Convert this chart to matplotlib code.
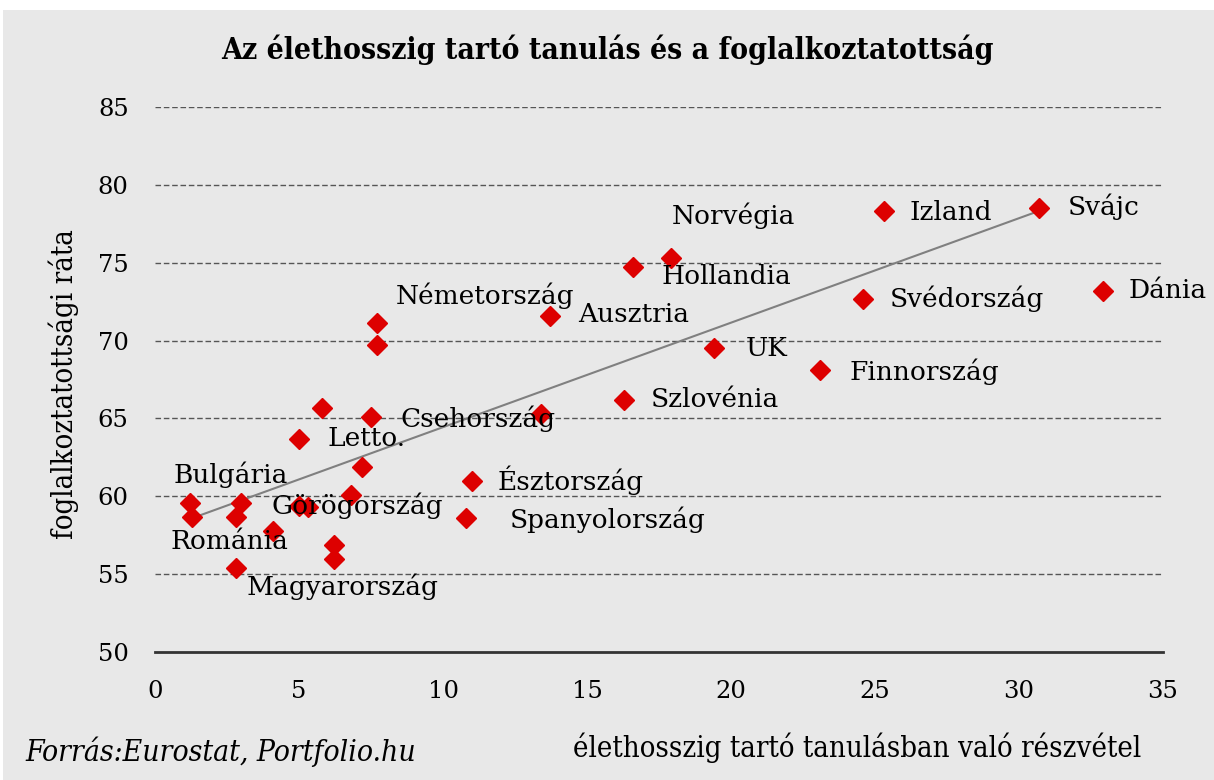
import numpy as np
import matplotlib.pyplot as plt
from matplotlib.patches import Rectangle

# participation in lifelong learning (%) vs employment rate (%)
learning = [1.2, 1.3, 2.8, 3.0, 4.1, 2.8, 5.0, 5.3, 6.8, 7.2, 6.2, 6.2,
            5.0, 5.8, 7.5, 7.7, 7.7, 13.4, 11.0, 10.8, 13.7, 16.6, 17.9,
            16.3, 19.4, 23.1, 24.6, 25.3, 30.7, 32.9]
employment = [59.6, 58.7, 58.7, 59.6, 57.8, 55.4, 59.4, 59.3, 60.1, 61.9, 56.9, 56.0,
              63.7, 65.7, 65.1, 71.1, 69.7, 65.3, 61.0, 58.6, 71.6, 74.7, 75.3,
              66.2, 69.5, 68.1, 72.7, 78.3, 78.5, 73.2]

# trend line as drawn in the original (slope, intercept), range of x
trend_coef = [0.671, 57.73]
trend_range = [1.15, 30.8]

label_names = ['Norvégia', 'Izland', 'Svájc', 'Hollandia', 'Svédország', 'Dánia',
               'Németország', 'Ausztria', 'UK', 'Finnország', 'Szlovénia',
               'Csehország', 'Letto.', 'Bulgária', 'Észtország', 'Görögország',
               'Spanyolország', 'Románia', 'Magyarország']
label_x = [17.95, 26.2, 31.7, 17.6, 25.5, 33.8, 8.37, 14.7, 20.5, 24.1, 17.2,
           8.54, 6.0, 0.63, 11.9, 4.06, 12.3, 0.52, 3.19]
label_y = [78.0, 78.2, 78.6, 74.1, 72.7, 73.2, 72.9, 71.7, 69.5, 68.0, 66.2,
           65.0, 63.7, 61.4, 61.0, 59.4, 58.5, 57.1, 54.2]

bg = '#e8e8e8'
serif = ['DejaVu Serif', 'Liberation Serif']

fig = plt.figure(figsize=(12.14, 7.8), dpi=100, facecolor='white')
fig.patches.append(Rectangle((3 / 1214, 0), 1, 1 - 10 / 780, transform=fig.transFigure,
                             facecolor=bg, edgecolor='none', zorder=-1))
ax = fig.add_axes([0.1277, 0.1641, 0.8303, 0.6987])
ax.set_facecolor(bg)

ax.set_xlim(0, 35)
ax.set_ylim(50, 85)
ax.set_xticks(range(0, 36, 5))
ax.set_yticks(range(50, 86, 5))
for s in ['top', 'right', 'left']:
    ax.spines[s].set_visible(False)
ax.spines['bottom'].set_color('#333333')
ax.spines['bottom'].set_linewidth(2)
ax.tick_params(length=0, labelsize=17.5)
ax.tick_params(axis='y', pad=19)
ax.tick_params(axis='x', pad=20)
for t in ax.get_xticklabels() + ax.get_yticklabels():
    t.set_family(serif)
for yv in range(55, 86, 5):
    ax.axhline(yv, color='#555555', lw=1, ls=(0, (4, 2)), zorder=1)

xs = np.array(trend_range)
ax.plot(xs, np.polyval(trend_coef, xs), color='#808080', lw=1.5, zorder=2)

ax.plot(learning, employment, 'D', color='#dd0000', ms=10, mec='#dd0000', zorder=3)

for name, lx, ly in zip(label_names, label_x, label_y):
    ax.text(lx, ly, name, fontsize=19, family=serif, va='center', ha='left', zorder=4)

fig.text(0.5, 1 - 50 / 780, 'Az élethosszig tartó tanulás és a foglalkoztatottság',
         ha='center', va='center', fontsize=21.5, fontweight='bold', family=serif,
         fontstretch='condensed')
fig.text(64 / 1214, 1 - 384 / 780, 'foglalkoztatottsági ráta', rotation=90,
         ha='center', va='center', fontsize=21, family=serif, fontstretch='condensed')
fig.text(857 / 1214, 1 - 748 / 780, 'élethosszig tartó tanulásban való részvétel',
         ha='center', va='center', fontsize=21, family=serif, fontstretch='condensed')
fig.text(25 / 1214, 1 - 752 / 780, 'Forrás:Eurostat, Portfolio.hu',
         ha='left', va='center', fontsize=21.5, family=serif, style='italic',
         fontstretch='condensed')

fig.savefig('out.png', dpi=100, facecolor='white')
